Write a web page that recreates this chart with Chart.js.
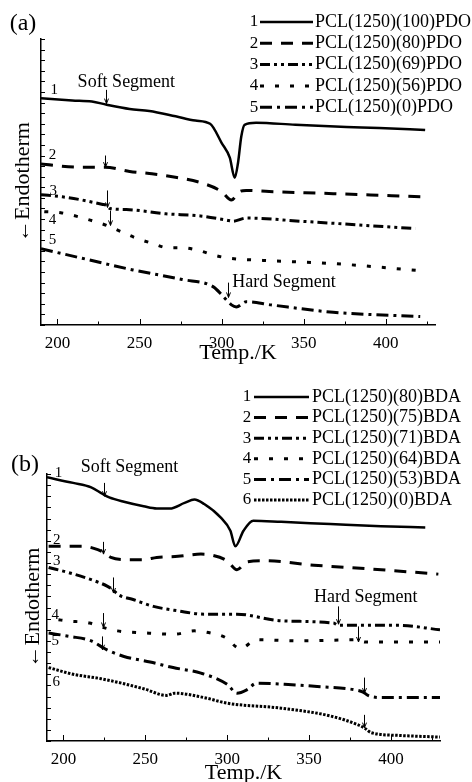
<!DOCTYPE html>
<html>
<head>
<meta charset="utf-8">
<script src="https://cdn.jsdelivr.net/npm/chart.js@4.4.1/dist/chart.umd.min.js"></script>
<style>
  html, body { margin: 0; padding: 0; background: #fff; overflow: hidden; }
  body { width: 472px; height: 782px; position: relative; }
  canvas { position: absolute; left: 0; }
  #chartA { top: 0; }
  #chartB { top: 380px; }
</style>
</head>
<body>
<canvas id="chartA" width="472" height="370"></canvas>
<canvas id="chartB" width="472" height="410"></canvas>
<script>
// (a) PCL(1250)(x)PDO series, heat flow in arbitrary units (endotherm down)
const labelsA = ['PCL(1250)(100)PDO', 'PCL(1250)(80)PDO', 'PCL(1250)(69)PDO', 'PCL(1250)(56)PDO', 'PCL(1250)(0)PDO'];
const tempA1 = [190, 209, 221, 230, 244, 256, 272, 284, 293, 300, 305, 308, 310, 312, 314, 321, 345, 376, 396, 424];
const heatA1 = [21.4, 21.2, 21.1, 20.8, 20.4, 20.2, 19.7, 19.3, 19.0, 17.2, 15.8, 13.9, 15.3, 17.8, 18.9, 19.1, 18.9, 18.7, 18.6, 18.4];
const tempA2 = [190, 213, 229, 244, 256, 270, 288, 300, 306, 311, 315, 329, 368, 422];
const heatA2 = [15.2, 14.9, 14.9, 14.5, 14.3, 14.0, 13.4, 12.6, 11.8, 12.6, 12.7, 12.6, 12.4, 12.1];
const tempA3 = [190, 203, 215, 227, 230, 232, 242, 266, 287, 303, 307, 315, 348, 388, 418];
const heatA3 = [12.3, 12.1, 11.8, 11.4, 11.3, 11.0, 10.9, 10.5, 10.3, 9.9, 9.8, 10.1, 9.8, 9.4, 9.1];
const tempA4 = [192, 202, 220, 230, 239, 248, 258, 267, 276, 287, 295, 305, 325, 368, 423];
const heatA4 = [10.7, 10.6, 9.9, 9.4, 8.8, 8.2, 7.7, 7.3, 7.3, 7.0, 6.6, 6.3, 6.1, 5.8, 5.1];
const tempA5 = [190, 215, 246, 276, 295, 301, 306, 309, 315, 330, 368, 421];
const heatA5 = [7.2, 6.3, 5.2, 4.3, 3.6, 2.7, 1.9, 1.7, 2.2, 1.9, 1.2, 0.8];

// (b) PCL(1250)(x)BDA series
const labelsB = ['PCL(1250)(80)BDA', 'PCL(1250)(75)BDA', 'PCL(1250)(71)BDA', 'PCL(1250)(64)BDA', 'PCL(1250)(53)BDA', 'PCL(1250)(0)BDA'];
const tempB1 = [190, 206, 217, 224, 228, 237, 249, 257, 265, 274, 280, 286, 296, 302, 305, 310, 316, 333, 363, 394, 421];
const heatB1 = [23.7, 23.2, 22.8, 22.2, 21.9, 21.5, 21.1, 20.9, 20.9, 21.4, 21.7, 21.3, 20.1, 18.9, 17.5, 18.9, 19.8, 19.7, 19.5, 19.3, 19.2];
const tempB2 = [191, 212, 221, 225, 229, 239, 249, 257, 270, 284, 291, 300, 306, 312, 323, 353, 384, 429];
const heatB2 = [17.5, 17.5, 17.2, 16.9, 16.5, 16.3, 16.3, 16.5, 16.6, 16.8, 16.7, 16.2, 15.4, 16.1, 16.2, 15.8, 15.5, 15.0];
const tempB3 = [191, 204, 217, 227, 231, 233, 243, 255, 270, 286, 306, 333, 365, 368, 384, 404, 430];
const heatB3 = [15.6, 15.1, 14.5, 13.9, 13.5, 13.2, 12.7, 12.1, 11.7, 11.4, 11.4, 10.8, 10.6, 10.4, 10.4, 10.4, 10.0];
const tempB4 = [197, 202, 216, 222, 233, 251, 268, 280, 290, 299, 308, 318, 343, 380, 384, 430];
const heatB4 = [10.9, 10.8, 10.6, 10.3, 9.9, 9.7, 9.6, 9.9, 9.7, 9.3, 8.3, 9.1, 9.0, 9.1, 8.9, 8.9];
const tempB5 = [191, 204, 217, 224, 228, 237, 253, 267, 284, 300, 306, 312, 318, 335, 355, 378, 383, 386, 394, 430];
const heatB5 = [9.7, 9.4, 9.0, 8.4, 8.1, 7.6, 7.1, 6.6, 6.1, 5.1, 4.3, 4.6, 5.2, 5.1, 4.9, 4.6, 4.4, 4.1, 3.9, 3.9];
const tempB6 = [191, 206, 223, 249, 263, 268, 286, 300, 333, 363, 380, 384, 388, 405, 430];
const heatB6 = [6.6, 6.0, 5.6, 4.7, 4.1, 4.3, 3.9, 3.4, 2.95, 2.25, 1.45, 1.15, 0.75, 0.5, 0.35];

const SERIF = '"Liberation Serif", "Times New Roman", "DejaVu Serif", serif';

const dashes = {
    solid: [],
    longDash: [12, 9],
    dashDots: [10, 4, 3, 4, 3, 4],
    shortDash: [4, 11],
    dashDot: [12, 5, 3, 5],
    dotted: [2.5, 1.5]
};

function pairs(xs, ys) {
    return xs.map((x, i) => ({ x: x, y: ys[i] }));
}

function makeSet(label, xs, ys, dash) {
    return {
        label: label,
        data: pairs(xs, ys),
        borderColor: '#000',
        borderWidth: dash.length ? 3 : 2.5,
        borderDash: dash,
        pointRadius: 0,
        cubicInterpolationMode: 'monotone',
        fill: false
    };
}

// inward tick marks on both axes, like the original plot
const inwardTicks = {
    id: 'inwardTicks',
    afterDraw(chart) {
        const ctx = chart.ctx, area = chart.chartArea;
        const xs = chart.scales.x, ys = chart.scales.y;
        ctx.save();
        ctx.strokeStyle = '#000';
        ctx.lineWidth = 1;
        ctx.beginPath();
        xs.ticks.forEach(t => {
            const px = Math.round(xs.getPixelForValue(t.value)) + 0.5;
            const len = t.value % 50 === 0 ? 6 : 3.5;
            ctx.moveTo(px, area.bottom);
            ctx.lineTo(px, area.bottom - len);
        });
        ys.ticks.forEach(t => {
            const py = Math.round(ys.getPixelForValue(t.value)) + 0.5;
            ctx.moveTo(area.left, py);
            ctx.lineTo(area.left + 4, py);
        });
        ctx.stroke();
        ctx.restore();
    }
};

// curve numbers, segment notes, arrows, legend and panel tag
const notes = {
    id: 'notes',
    afterDraw(chart, args, opts) {
        const ctx = chart.ctx;
        const xs = chart.scales.x, ys = chart.scales.y;
        ctx.save();
        ctx.fillStyle = '#000';
        ctx.strokeStyle = '#000';
        ctx.textBaseline = 'middle';

        ctx.font = '24px ' + SERIF;
        ctx.textAlign = 'center';
        ctx.fillText(opts.tag.text, opts.tag.x, opts.tag.y);

        ctx.font = '15px ' + SERIF;
        opts.numbers.forEach(n => {
            ctx.fillText(n.text, xs.getPixelForValue(n.t), ys.getPixelForValue(n.y));
        });

        ctx.font = '18px ' + SERIF;
        opts.texts.forEach(n => {
            ctx.textAlign = n.align || 'center';
            ctx.fillText(n.text, xs.getPixelForValue(n.t), ys.getPixelForValue(n.y));
        });

        ctx.lineWidth = 1;
        opts.arrows.forEach(a => {
            const px = Math.round(xs.getPixelForValue(a.t)) + 0.5;
            const p0 = ys.getPixelForValue(a.y0), p1 = ys.getPixelForValue(a.y1);
            ctx.beginPath();
            ctx.moveTo(px, p0);
            ctx.lineTo(px, p1);
            ctx.moveTo(px - 2, p1 - 5);
            ctx.lineTo(px, p1);
            ctx.lineTo(px + 2, p1 - 5);
            ctx.stroke();
        });

        const lg = opts.legend;
        chart.data.datasets.forEach((ds, i) => {
            const y = lg.y + i * lg.step;
            ctx.font = '17px ' + SERIF;
            ctx.textAlign = 'center';
            ctx.fillText(String(i + 1), lg.numX, y);
            ctx.beginPath();
            ctx.lineWidth = ds.borderWidth;
            ctx.setLineDash(ds.borderDash);
            ctx.moveTo(lg.x0, y);
            ctx.lineTo(lg.x1, y);
            ctx.stroke();
            ctx.setLineDash([]);
            ctx.font = '18px ' + SERIF;
            ctx.textAlign = 'left';
            ctx.fillText(ds.label, lg.textX, y);
        });
        ctx.restore();
    }
};

function baseOptions(yMax, padTop, padRight, yWidth, xHeight, yTitlePad) {
    return {
        responsive: false,
        animation: false,
        layout: { padding: { left: 0, top: padTop, right: padRight, bottom: 0 } },
        plugins: { legend: { display: false }, tooltip: { enabled: false } },
        scales: {
            x: {
                type: 'linear',
                min: 190,
                max: 430,
                afterFit: s => { s.height = xHeight; },
                grid: { display: false, drawTicks: false },
                border: { color: '#000', width: 1.5 },
                ticks: {
                    stepSize: 25,
                    includeBounds: false,
                    autoSkip: false,
                    maxRotation: 0,
                    padding: 8,
                    color: '#000',
                    font: { family: SERIF, size: 17 },
                    callback: v => (v % 50 === 0 ? String(v) : '')
                },
                title: {
                    display: true,
                    text: 'Temp./K',
                    color: '#000',
                    font: { family: SERIF, size: 22 },
                    padding: { top: 0, bottom: 4 }
                }
            },
            y: {
                min: 0,
                max: yMax,
                afterFit: s => { s.width = yWidth; },
                grid: { display: false, drawTicks: false },
                border: { color: '#000', width: 1.5 },
                ticks: { display: false, stepSize: 1 },
                title: {
                    display: true,
                    text: '\u2190Endotherm',
                    color: '#000',
                    font: { family: SERIF, size: 22 },
                    padding: { top: yTitlePad, bottom: 0 }
                }
            }
        }
    };
}

const optsA = baseOptions(27, 39, 37, 41, 45, 10);
optsA.plugins.notes = {
    tag: { text: '(a)', x: 23, y: 24 },
    numbers: [
        { text: '1', t: 198, y: 22.2 },
        { text: '2', t: 197, y: 16.0 },
        { text: '3', t: 197.5, y: 12.6 },
        { text: '4', t: 197, y: 9.9 },
        { text: '5', t: 197, y: 8.0 }
    ],
    texts: [
        { text: 'Soft Segment', t: 242, y: 22.9 },
        { text: 'Hard Segment', t: 306.5, y: 4.05, align: 'left' }
    ],
    arrows: [
        { t: 229.5, y0: 22.2, y1: 20.9 },
        { t: 229, y0: 16.0, y1: 14.9 },
        { t: 230, y0: 12.7, y1: 11.1 },
        { t: 232, y0: 10.8, y1: 9.4 },
        { t: 304, y0: 4.0, y1: 2.6 }
    ],
    legend: { numX: 254, x0: 260, x1: 313, textX: 315, y: 22, step: 21.3 }
};

const optsB = baseOptions(24, 94, 32, 47, 49, 20);
optsB.plugins.notes = {
    tag: { text: '(b)', x: 25, y: 85 },
    numbers: [
        { text: '1', t: 197, y: 24.1 },
        { text: '2', t: 196, y: 18.1 },
        { text: '3', t: 196, y: 16.15 },
        { text: '4', t: 195, y: 11.35 },
        { text: '5', t: 195, y: 8.95 },
        { text: '6', t: 195.7, y: 5.34 }
    ],
    texts: [
        { text: 'Soft Segment', t: 240.4, y: 24.6 },
        { text: 'Hard Segment', t: 384.7, y: 12.9 }
    ],
    arrows: [
        { t: 224.6, y0: 23.2, y1: 22.0 },
        { t: 224.5, y0: 17.9, y1: 16.8 },
        { t: 230.6, y0: 14.7, y1: 13.3 },
        { t: 224.3, y0: 11.5, y1: 10.2 },
        { t: 223.7, y0: 9.4, y1: 8.2 },
        { t: 367.8, y0: 12.1, y1: 10.5 },
        { t: 380, y0: 10.3, y1: 8.9 },
        { t: 383.7, y0: 5.7, y1: 4.3 },
        { t: 383.3, y0: 2.35, y1: 1.2 }
    ],
    legend: { numX: 247, x0: 254, x1: 309, textX: 312, y: 17, step: 20.6 }
};

new Chart(document.getElementById('chartA'), {
    type: 'line',
    data: {
        datasets: [
            makeSet(labelsA[0], tempA1, heatA1, dashes.solid),
            makeSet(labelsA[1], tempA2, heatA2, dashes.longDash),
            makeSet(labelsA[2], tempA3, heatA3, dashes.dashDots),
            makeSet(labelsA[3], tempA4, heatA4, dashes.shortDash),
            makeSet(labelsA[4], tempA5, heatA5, dashes.dashDot)
        ]
    },
    options: optsA,
    plugins: [inwardTicks, notes]
});

new Chart(document.getElementById('chartB'), {
    type: 'line',
    data: {
        datasets: [
            makeSet(labelsB[0], tempB1, heatB1, dashes.solid),
            makeSet(labelsB[1], tempB2, heatB2, dashes.longDash),
            makeSet(labelsB[2], tempB3, heatB3, dashes.dashDots),
            makeSet(labelsB[3], tempB4, heatB4, dashes.shortDash),
            makeSet(labelsB[4], tempB5, heatB5, dashes.dashDot),
            makeSet(labelsB[5], tempB6, heatB6, dashes.dotted)
        ]
    },
    options: optsB,
    plugins: [inwardTicks, notes]
});
</script>
</body>
</html>
